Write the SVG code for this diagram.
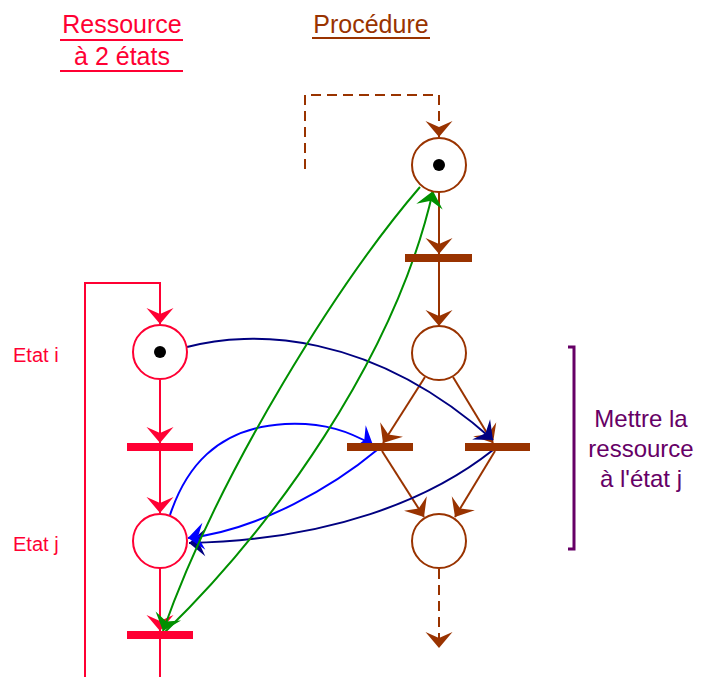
<svg xmlns="http://www.w3.org/2000/svg" width="703" height="677" viewBox="0 0 703 677">
<style>
text{font-family:"Liberation Sans",Arial,sans-serif}
.red{stroke:#ff0033;fill:none;stroke-width:2}
.brn{stroke:#993300;fill:none;stroke-width:2}
.dash{stroke-dasharray:10,6}
.pl{fill:#fff;stroke-width:2}
.tok{fill:#000}
.trR{fill:#ff0033}
.trB{fill:#993300}
</style>
<defs>
<marker id="aR" viewBox="-17 -14 18 28" refX="0" refY="0" markerWidth="18" markerHeight="28" markerUnits="userSpaceOnUse" orient="auto"><path d="M0,0 L-16,-13.5 L-10,0 L-16,13.5 Z" fill="#ff0033"/></marker>
<marker id="aB" viewBox="-17 -14 18 28" refX="0" refY="0" markerWidth="18" markerHeight="28" markerUnits="userSpaceOnUse" orient="auto"><path d="M0,0 L-16,-13.5 L-10,0 L-16,13.5 Z" fill="#993300"/></marker>
<marker id="aN" viewBox="-17 -14 18 28" refX="0" refY="0" markerWidth="18" markerHeight="28" markerUnits="userSpaceOnUse" orient="auto"><path d="M0,0 L-16,-13.5 L-10,0 L-16,13.5 Z" fill="#000080"/></marker>
<marker id="aL" viewBox="-17 -14 18 28" refX="0" refY="0" markerWidth="18" markerHeight="28" markerUnits="userSpaceOnUse" orient="auto"><path d="M0,0 L-16,-13.5 L-10,0 L-16,13.5 Z" fill="#0000ff"/></marker>
<marker id="aG" viewBox="-17 -14 18 28" refX="0" refY="0" markerWidth="18" markerHeight="28" markerUnits="userSpaceOnUse" orient="auto"><path d="M0,0 L-16,-13.5 L-10,0 L-16,13.5 Z" fill="#009000"/></marker>
</defs>

<g id="titles">
<text x="122" y="33" font-size="25" fill="#ff0033" text-anchor="middle">Ressource</text>
<text x="122" y="65" font-size="25" fill="#ff0033" text-anchor="middle">à 2 états</text>
<line x1="60" y1="40" x2="183" y2="40" stroke="#ff0033" stroke-width="2"/>
<line x1="60" y1="71" x2="183" y2="71" stroke="#ff0033" stroke-width="2"/>
<text x="371" y="33" font-size="25" fill="#993300" text-anchor="middle">Procédure</text>
<line x1="312" y1="38" x2="430" y2="38" stroke="#993300" stroke-width="2"/>
</g>

<g id="connectors">
<!-- red resource -->
<path class="red" d="M85,677 V283 H160 V324" marker-end="url(#aR)"/>
<path class="red" d="M160,380 V443" marker-end="url(#aR)"/>
<path class="red" d="M160,451 V513" marker-end="url(#aR)"/>
<path class="red" d="M160,568 V631" marker-end="url(#aR)"/>
<path class="red" d="M160,639 V677"/>
<!-- brown procedure -->
<path class="brn dash" d="M305,169 V95 H439 V137" marker-end="url(#aB)"/>
<path class="brn" d="M439,192 V254" marker-end="url(#aB)"/>
<path class="brn" d="M439,262 V326" marker-end="url(#aB)"/>
<path class="brn" d="M425,377 L383,443" marker-end="url(#aB)"/>
<path class="brn" d="M453,377 L493,443" marker-end="url(#aB)"/>
<path class="brn" d="M382,451 L424,517" marker-end="url(#aB)"/>
<path class="brn" d="M495,451 L455,517" marker-end="url(#aB)"/>
<path class="brn dash" d="M439,569 V648" marker-end="url(#aB)"/>
<!-- navy -->
<path d="M187,347 C250,330 370,330 493,440" fill="none" stroke="#000080" stroke-width="2" marker-end="url(#aN)"/>
<path d="M493,450 C430,500 330,540 189,543" fill="none" stroke="#000080" stroke-width="2" marker-end="url(#aN)"/>
<!-- blue -->
<path d="M170,515 C185,470 215,428 285,424 C325,422 350,432 373,445" fill="none" stroke="#0000ff" stroke-width="2" marker-end="url(#aL)"/>
<path d="M377,450 C335,485 260,530 188,538" fill="none" stroke="#0000ff" stroke-width="2" marker-end="url(#aL)"/>
<!-- green -->
<path d="M420,187 C340,280 220,470 163,631" fill="none" stroke="#009000" stroke-width="2" marker-end="url(#aG)"/>
<path d="M165,632 C270,530 395,360 433,191" fill="none" stroke="#009000" stroke-width="2" marker-end="url(#aG)"/>
</g>

<g id="etat-i">
<circle class="pl" cx="160" cy="352" r="27" stroke="#ff0033"/>
<circle class="tok" cx="160" cy="352" r="6"/>
<text x="13" y="362" font-size="20" fill="#ff0033">Etat i</text>
</g>
<g id="t-r1"><rect class="trR" x="127" y="443" width="66" height="8"/></g>
<g id="etat-j">
<circle class="pl" cx="160" cy="541" r="27" stroke="#ff0033"/>
<text x="13" y="551" font-size="20" fill="#ff0033">Etat j</text>
</g>
<g id="t-r2"><rect class="trR" x="127" y="631" width="66" height="8"/></g>

<g id="p-top">
<circle class="pl" cx="439" cy="165" r="27" stroke="#993300"/>
<circle class="tok" cx="439" cy="165" r="6"/>
</g>
<g id="t-b1"><rect class="trB" x="405" y="254" width="67" height="8"/></g>
<g id="p-mid"><circle class="pl" cx="439" cy="353" r="27" stroke="#993300"/></g>
<g id="t-bl"><rect class="trB" x="347" y="443" width="66" height="8"/></g>
<g id="t-br"><rect class="trB" x="465" y="443" width="65" height="8"/></g>
<g id="p-bot"><circle class="pl" cx="439" cy="541" r="27" stroke="#993300"/></g>

<g id="bracket">
<path d="M568,347 H574 V549 H568" fill="none" stroke="#660066" stroke-width="3"/>
<text x="641" y="427" font-size="24" fill="#660066" text-anchor="middle">Mettre la</text>
<text x="641" y="457" font-size="24" fill="#660066" text-anchor="middle">ressource</text>
<text x="641" y="487" font-size="24" fill="#660066" text-anchor="middle">à l'état j</text>
</g>
</svg>
